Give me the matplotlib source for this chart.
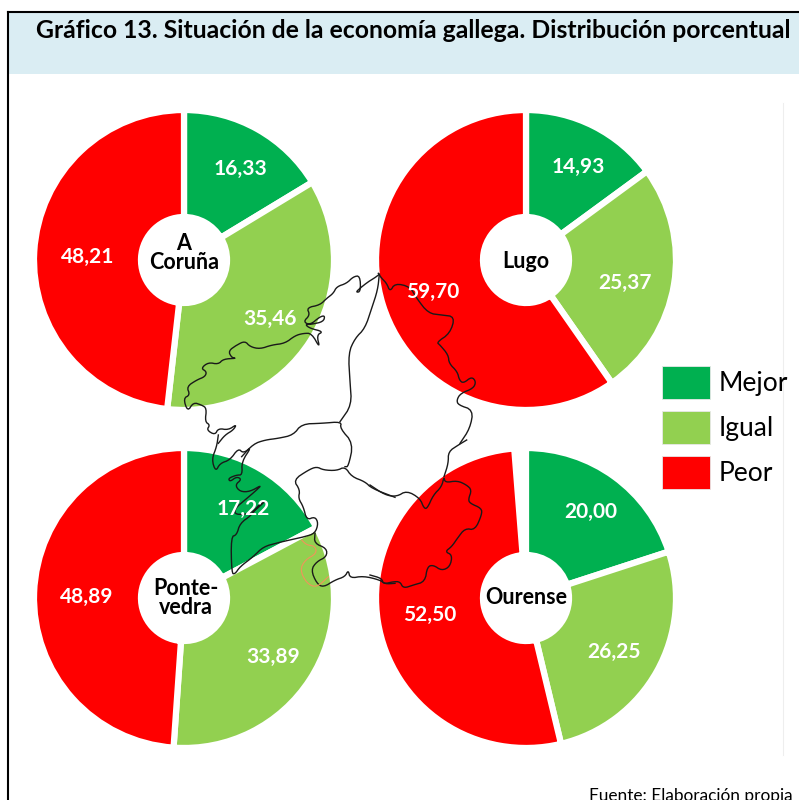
#!/usr/bin/env python3
"""Gráfico 13: situación de la economía gallega, one ring per province over the map outline."""
import matplotlib
matplotlib.use("Agg")
import matplotlib.pyplot as plt
from matplotlib.patches import Patch, Rectangle

W, H = 799, 800

categories = ["Mejor", "Igual", "Peor"]
colors = ["#00B050", "#92D050", "#FF0000"]

coruna = [16.33, 35.46, 48.21]
lugo = [14.93, 25.37, 59.70]
pontevedra = [17.22, 33.89, 48.89]
ourense = [20.00, 26.25, 52.50]
value_labels = {
    "coruna": ["16,33", "35,46", "48,21"],
    "lugo": ["14,93", "25,37", "59,70"],
    "pontevedra": ["17,22", "33,89", "48,89"],
    "ourense": ["20,00", "26,25", "52,50"],
}

# outline of Galicia, traced by hand from crops of the picture: (crop x, crop y, points)
north_west = (195, 265, [
    (553, 28), (540, 38), (520, 50), (497, 68), (482, 82), (497, 80), (495, 32), (475, 35), (455, 55),
    (425, 65), (415, 85), (395, 100), (375, 120), (335, 128), (345, 150), (325, 170), (345, 180),
    (375, 155), (390, 152), (385, 170), (350, 178), (330, 178), (345, 190), (385, 200), (365, 210),
    (375, 250), (350, 205), (325, 205), (300, 212), (270, 235), (230, 240), (195, 252), (165, 245),
    (150, 228), (125, 240), (100, 258), (110, 278), (125, 280), (85, 282), (70, 298), (40, 292),
    (18, 310), (35, 320), (30, 335), (5, 345), (-25, 365), (-15, 390), (-35, 400), (-22, 440),
    (-5, 412), (20, 420), (35, 430), (30, 470), (45, 480), (35, 495), (60, 510), (70, 490),
    (100, 495), (125, 478), (115, 495), (90, 510), (70, 535),
])
west_coast = (195, 420, [
    (70, 45), (65, 80), (50, 118), (62, 155), (75, 130), (105, 120), (130, 85), (145, 100), (170, 80),
    (140, 125), (142, 165), (125, 165), (100, 175), (105, 185), (125, 170), (140, 178), (120, 195),
    (135, 215), (165, 215), (200, 195), (185, 210), (150, 240), (120, 265), (120, 285), (170, 280),
    (215, 240), (190, 255), (170, 285), (135, 310), (125, 345), (108, 350), (110, 460), (120, 462),
    (135, 440), (175, 410), (205, 380), (250, 368), (275, 362), (330, 350), (360, 340), (370, 310),
    (360, 290), (335, 300), (325, 260), (310, 235), (315, 210), (295, 180), (340, 150), (365, 140),
    (385, 150), (425, 152), (450, 140), (470, 170), (510, 185), (530, 205), (600, 232),
])
coruna_pontevedra = (195, 420, [
    (140, 110), (175, 72), (210, 60), (250, 55), (295, 45), (320, 12), (380, 10), (440, 5), (435, 25),
    (475, 70), (460, 140), (450, 140),
])
lugo_coruna = (195, 265, [
    (553, 28), (548, 75), (530, 130), (510, 190), (480, 220), (460, 265), (465, 350), (470, 420),
    (435, 470),
])
minho_south = (195, 420, [
    (360, 340), (358, 370), (395, 385), (395, 410), (365, 425), (348, 450), (365, 490), (385, 502),
    (420, 480), (450, 470), (460, 450), (465, 475), (505, 468), (555, 480), (570, 492), (600, 490),
])
ourense_line = (370, 440, [
    (0, 405), (35, 415), (40, 432), (70, 425), (90, 425), (100, 445), (130, 435), (165, 425), (172, 380),
    (190, 375), (215, 392), (240, 380), (247, 345), (225, 335), (245, 320), (262, 295), (285, 265),
    (315, 270), (335, 225), (335, 205), (300, 190), (295, 178), (305, 150), (290, 135), (262, 122),
    (225, 128), (222, 110), (215, 140), (190, 165), (172, 205), (162, 205), (150, 175), (110, 152),
    (80, 170), (45, 165), (0, 135),
])
ourense_lugo = (370, 440, [(222, 110), (235, 70), (235, 35), (265, 15), (290, 0)])
lugo_line = (370, 265, [
    (270, 535), (300, 490), (310, 435), (265, 420), (260, 405), (272, 385), (310, 370), (318, 350),
    (305, 335), (280, 355), (268, 345), (262, 320), (237, 295), (235, 270), (210, 240), (200, 232),
    (240, 205), (255, 155), (215, 150), (175, 145), (140, 100), (120, 65), (75, 55), (60, 80), (50, 55),
    (35, 40), (25, 25),
])
orange_line = (195, 420, [
    (320, 360), (335, 375), (360, 378), (365, 400), (330, 420), (315, 450), (335, 490), (365, 503),
    (400, 470),
])


def py(y):
    # picture rows run downwards, the axes run upwards
    return H - y


def smooth(xs, ys):
    # corner cutting so the traced outline does not look polygonal
    for _ in range(2):
        nx, ny = [xs[0]], [ys[0]]
        for i in range(len(xs) - 1):
            nx += [0.75 * xs[i] + 0.25 * xs[i + 1], 0.25 * xs[i] + 0.75 * xs[i + 1]]
            ny += [0.75 * ys[i] + 0.25 * ys[i + 1], 0.25 * ys[i] + 0.75 * ys[i + 1]]
        xs, ys = nx + [xs[-1]], ny + [ys[-1]]
    return xs, ys


def draw_trace(ax, trace, color="#1A1A1A", lw=1.0):
    x0, y0, pts = trace
    xs = [x0 + p[0] / 3 for p in pts]
    ys = [py(y0 + p[1] / 3) for p in pts]
    xs, ys = smooth(xs, ys)
    ax.plot(xs, ys, color=color, lw=lw, zorder=4, solid_joinstyle="round")


def draw_ring(ax, values, cx, cy, labels, label_pos, name, name_pos):
    # values are percentages and Ourense does not reach 100, so no normalising
    ax.pie(
        [v / 100 for v in values],
        colors=colors,
        startangle=90,
        counterclock=False,
        normalize=False,
        center=(cx, py(cy)),
        radius=150,
        wedgeprops=dict(width=107, edgecolor="white", linewidth=4.5, zorder=3),
        frame=True,
    )
    for txt, (x, y) in zip(labels, label_pos):
        ax.text(x, py(y + 2), txt, color="white", fontsize=15, fontweight="bold",
                ha="center", va="center", zorder=5)
    ax.text(name_pos[0], py(name_pos[1]), name, color="black", fontsize=15.5, fontweight="bold",
            ha="center", va="center", linespacing=0.85, zorder=6)


plt.rcParams["font.family"] = ["Lato", "DejaVu Sans"]

fig = plt.figure(figsize=(W / 100, H / 100), dpi=100)
ax = fig.add_axes([0, 0, 1, 1])

# title band and frame
ax.add_patch(Rectangle((8, py(74)), W, 62, facecolor="#DAEDF3", edgecolor="none", zorder=1))
ax.plot([8, 8], [py(12), 0], color="black", lw=1.5, zorder=2)
ax.plot([8, W], [py(12), py(12)], color="black", lw=1.5, zorder=2)
ax.plot([783, 783], [py(103), py(755)], color="#EEEEEE", lw=0.8, zorder=1)

draw_ring(ax, coruna, 184, 260, value_labels["coruna"],
          [(240, 167), (270, 317), (88, 255)], "A\nCoruña", (184, 253))
draw_ring(ax, lugo, 526, 260, value_labels["lugo"],
          [(578, 165), (625, 281), (433, 290)], "Lugo", (526, 261))
draw_ring(ax, pontevedra, 184, 598, value_labels["pontevedra"],
          [(243, 507), (273, 655), (87, 595)], "Ponte-\nvedra", (186, 598))
draw_ring(ax, ourense, 526, 598, value_labels["ourense"],
          [(591, 510), (614, 650), (430, 613)], "Ourense", (526, 597))

for trace in [north_west, west_coast, coruna_pontevedra, lugo_coruna, minho_south,
              ourense_line, ourense_lugo, lugo_line]:
    draw_trace(ax, trace)
draw_trace(ax, orange_line, color="#F0955A", lw=0.8)

ax.text(413.5, py(31), "Gráfico 13. Situación de la economía gallega. Distribución porcentual",
        fontsize=17.85, fontweight="bold", color="black", ha="center", va="center", zorder=5)
ax.text(793, py(796), "Fuente: Elaboración propia", fontsize=12.4, color="black",
        ha="right", va="center", zorder=5)

handles = [Patch(facecolor=c, edgecolor="#E8E8E8", linewidth=0.6) for c in colors]
ax.legend(handles, categories, loc="upper left", bbox_to_anchor=(662 / W, 1 - 366 / H),
          bbox_transform=ax.transAxes, frameon=False, fontsize=19, borderpad=0, borderaxespad=0,
          handlelength=1.82, handleheight=1.52, labelspacing=0.48, handletextpad=0.32)

ax.set_xlim(0, W)
ax.set_ylim(0, H)
ax.set_aspect("auto")
ax.axis("off")

fig.savefig("out.png", dpi=100, facecolor="white")
